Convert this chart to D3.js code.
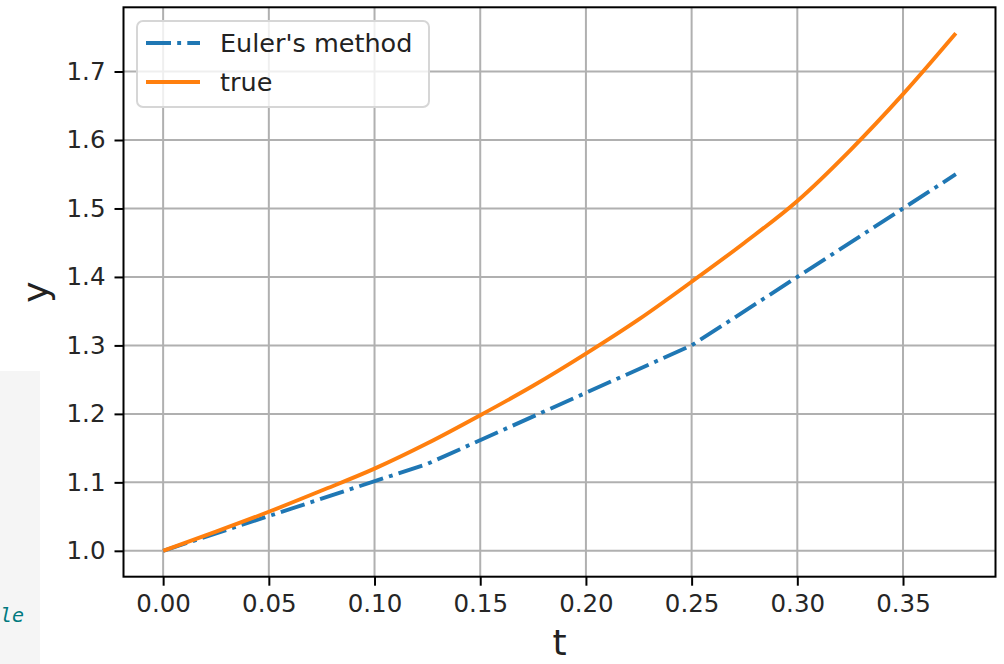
<!DOCTYPE html>
<html>
<head>
<meta charset="utf-8">
<script src="https://cdn.jsdelivr.net/npm/d3@7"></script>
<style>
  html, body { margin: 0; padding: 0; background: #fff; }
  svg { display: block; font-family: "DejaVu Sans", sans-serif; }
</style>
</head>
<body>
<div id="chart"></div>
<script>
// values
const tTrue = [0, 0.025, 0.05, 0.075, 0.1, 0.125, 0.15, 0.175, 0.2, 0.225, 0.25, 0.275, 0.3, 0.325, 0.35, 0.375];
const yTrue = [1.000, 1.028, 1.057, 1.088, 1.120, 1.157, 1.198, 1.241, 1.288, 1.338, 1.393, 1.450, 1.511, 1.585, 1.667, 1.756];
const tEuler = [0, 0.125, 0.25, 0.375];
const yEuler = [1.000, 1.127, 1.300, 1.550];
const xTicks = [0, 0.05, 0.10, 0.15, 0.20, 0.25, 0.30, 0.35];
const yTicks = [1.0, 1.1, 1.2, 1.3, 1.4, 1.5, 1.6, 1.7];
const seriesNames = ["Euler's method", "true"];

const W = 1004, H = 664;
const box = { left: 123.5, right: 995.5, top: 7.3, bottom: 576.7 };

const svg = d3.select("#chart").append("svg")
    .attr("width", W).attr("height", H);

// notebook leftovers on the left edge
svg.append("rect")
    .attr("x", 0).attr("y", 371).attr("width", 40).attr("height", H - 371)
    .attr("fill", "#f5f5f5");
svg.append("text")
    .attr("x", 24).attr("y", 622)
    .attr("text-anchor", "end")
    .style("font-family", "'DejaVu Sans Mono', monospace")
    .style("font-style", "italic")
    .style("font-size", "20px")
    .attr("fill", "#00797f")
    .text("le");

// matplotlib style 5% margins
const tExt = d3.extent(tTrue.concat(tEuler));
const yExt = d3.extent(yTrue.concat(yEuler));
const tPad = (tExt[1] - tExt[0]) * 0.05, yPad = (yExt[1] - yExt[0]) * 0.05;

const x = d3.scaleLinear().domain([tExt[0] - tPad, tExt[1] + tPad]).range([box.left, box.right]);
const y = d3.scaleLinear().domain([yExt[0] - yPad, yExt[1] + yPad]).range([box.bottom, box.top]);

// grid
svg.append("g").selectAll("line").data(xTicks).join("line")
    .attr("x1", d => x(d)).attr("x2", d => x(d))
    .attr("y1", box.top).attr("y2", box.bottom)
    .attr("stroke", "#b0b0b0").attr("stroke-width", 2);
svg.append("g").selectAll("line").data(yTicks).join("line")
    .attr("x1", box.left).attr("x2", box.right)
    .attr("y1", d => y(d)).attr("y2", d => y(d))
    .attr("stroke", "#b0b0b0").attr("stroke-width", 2);

// lines
const lineGen = d3.line().x(d => x(d[0])).y(d => y(d[1]));
const eulerPts = tEuler.map((t, i) => [t, yEuler[i]]);
const truePts = tTrue.map((t, i) => [t, yTrue[i]]);

svg.append("path").datum(eulerPts)
    .attr("d", lineGen)
    .attr("fill", "none").attr("stroke", "#1f77b4").attr("stroke-width", 3.9)
    .attr("stroke-dasharray", "25,6.2,3.9,6.2");
svg.append("path").datum(truePts)
    .attr("d", d3.line().curve(d3.curveMonotoneX).x(d => x(d[0])).y(d => y(d[1])))
    .attr("fill", "none").attr("stroke", "#ff7f0e").attr("stroke-width", 3.9);

// axes
const xAxis = d3.axisBottom(x).tickValues(xTicks).tickFormat(d3.format(".2f"))
    .tickSize(9).tickPadding(9);
const yAxis = d3.axisLeft(y).tickValues(yTicks).tickFormat(d3.format(".1f"))
    .tickSize(9).tickPadding(9);

const gx = svg.append("g").attr("transform", `translate(0,${box.bottom})`).call(xAxis);
const gy = svg.append("g").attr("transform", `translate(${box.left},0)`).call(yAxis);
[gx, gy].forEach(g => {
    g.select(".domain").remove();
    g.selectAll(".tick line").attr("stroke", "#000").attr("stroke-width", 2);
    g.selectAll(".tick text").attr("fill", "#262626").style("font-size", "24.5px")
        .style("font-family", "'DejaVu Sans', sans-serif");
});

// frame
svg.append("rect")
    .attr("x", box.left).attr("y", box.top)
    .attr("width", box.right - box.left).attr("height", box.bottom - box.top)
    .attr("fill", "none").attr("stroke", "#000").attr("stroke-width", 2);

// axis labels
svg.append("text")
    .attr("x", (box.left + box.right) / 2).attr("y", 655)
    .attr("text-anchor", "middle")
    .style("font-size", "36px").attr("fill", "#222")
    .text("t");
svg.append("text")
    .attr("transform", `translate(48,${(box.top + box.bottom) / 2}) rotate(-90)`)
    .attr("text-anchor", "middle")
    .style("font-size", "36px").attr("fill", "#222")
    .text("y");

// legend
const leg = svg.append("g");
leg.append("rect")
    .attr("x", 137).attr("y", 21).attr("width", 292).attr("height", 86)
    .attr("rx", 6).attr("ry", 6)
    .attr("fill", "#fff").attr("fill-opacity", 0.8)
    .attr("stroke", "#d6d6d6").attr("stroke-width", 2);
const legItems = [
    { name: seriesNames[0], color: "#1f77b4", dash: "25,6.2,3.9,6.2", cy: 43 },
    { name: seriesNames[1], color: "#ff7f0e", dash: null, cy: 82 }
];
legItems.forEach(it => {
    leg.append("line")
        .attr("x1", 146).attr("x2", 200).attr("y1", it.cy).attr("y2", it.cy)
        .attr("stroke", it.color).attr("stroke-width", 3.9)
        .attr("stroke-dasharray", it.dash);
    leg.append("text")
        .attr("x", 220).attr("y", it.cy).attr("dy", "0.36em")
        .style("font-size", "25.5px").attr("fill", "#222")
        .text(it.name);
});
</script>
</body>
</html>
